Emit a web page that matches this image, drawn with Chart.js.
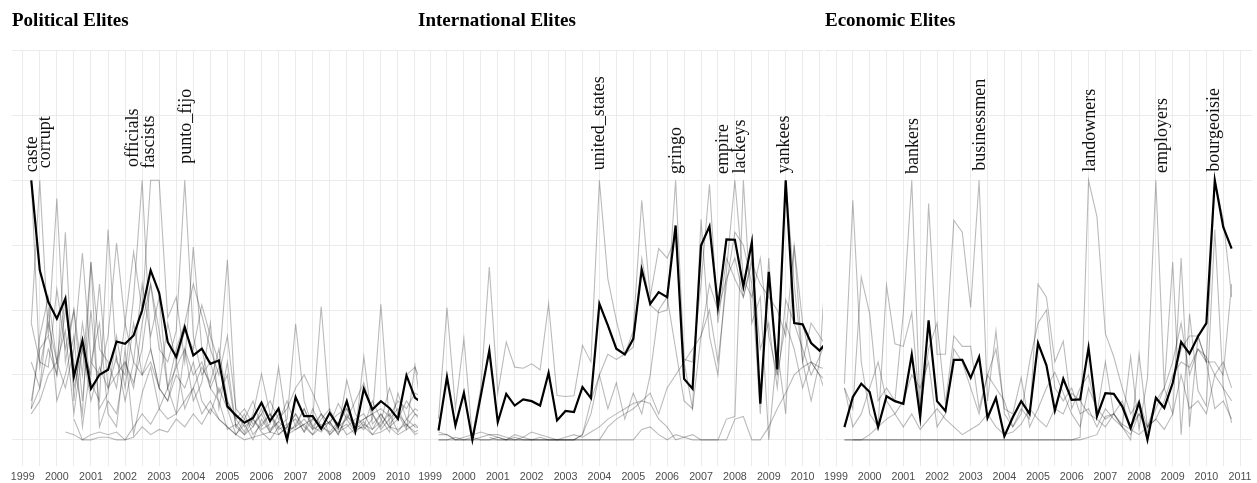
<!DOCTYPE html>
<html><head><meta charset="utf-8">
<script src="https://cdn.jsdelivr.net/npm/chart.js@4.4.0/dist/chart.umd.min.js"></script>
<style>
html,body{margin:0;padding:0;background:#fff;}
#wrap{position:relative;width:1257px;height:483px;overflow:hidden;background:#fff;}
.panel{position:absolute;top:0;height:488px;}
canvas{display:block;}
</style></head><body>
<div id="wrap">
  <div class="panel" style="left:0px;width:421px"><canvas id="c1" width="421" height="488"></canvas></div>
  <div class="panel" style="left:406px;width:421px"><canvas id="c2" width="421" height="488"></canvas></div>
  <div class="panel" style="left:813px;width:444px"><canvas id="c3" width="444" height="488"></canvas></div>
</div>
<script>
// ---------- categories (quarters) ----------
const quarters = [
  "1999 Q2","1999 Q3","1999 Q4",
  "2000 Q1","2000 Q2","2000 Q3","2000 Q4",
  "2001 Q1","2001 Q2","2001 Q3","2001 Q4",
  "2002 Q1","2002 Q2","2002 Q3","2002 Q4",
  "2003 Q1","2003 Q2","2003 Q3","2003 Q4",
  "2004 Q1","2004 Q2","2004 Q3","2004 Q4",
  "2005 Q1","2005 Q2","2005 Q3","2005 Q4",
  "2006 Q1","2006 Q2","2006 Q3","2006 Q4",
  "2007 Q1","2007 Q2","2007 Q3","2007 Q4",
  "2008 Q1","2008 Q2","2008 Q3","2008 Q4",
  "2009 Q1","2009 Q2","2009 Q3","2009 Q4",
  "2010 Q1","2010 Q2","2010 Q3","2010 Q4"
];
// ---------- tick labels / grid ----------
const yearTicks = [1999,2000,2001,2002,2003,2004,2005,2006,2007,2008,2009,2010,2011];
const halfYearTicks = [1999.5,2000.5,2001.5,2002.5,2003.5,2004.5,2005.5,2006.5,2007.5,2008.5,2009.5,2010.5];
const yGrid = [0,0.25,0.5,0.75,1,1.25,1.5];

// ---------- Political elites ----------
const polMain = [1.0,0.653,0.531, 0.467,0.544,0.244,0.383, 0.197,0.251,0.270,0.379, 0.370,0.402,0.499,0.653, 0.566,0.377,0.319,0.434, 0.325,0.351,0.293,0.306, 0.129,0.094,0.066,0.084, 0.143,0.072,0.120,0.0, 0.165,0.091,0.091,0.042, 0.104,0.053,0.149,0.033, 0.197,0.117,0.149,0.123, 0.081,0.248,0.162,0.14];
const polCaste = [1.00,0.28,0.45, 0.30,0.55,0.20,0.35, 0.15,0.28,0.20,0.25, 0.30,0.22,0.35,0.60, 0.42,0.20,0.28,0.35, 0.25,0.30,0.20,0.15, 0.04,0.06,0.02,0.05, 0.10,0.03,0.07,0.04, 0.05,0.12,0.04,0.06, 0.02,0.05,0.08,0.03, 0.06,0.04,0.10,0.05, 0.08,0.15,0.10,0.06];
const polCorrupt = [0.45,1.00,0.40, 0.93,0.30,0.50,0.25, 0.685,0.35,0.30,0.20, 0.45,0.30,0.25,0.35, 0.20,0.15,0.30,0.12, 0.20,0.10,0.15,0.08, 0.05,0.02,0.06,0.00, 0.08,0.03,0.10,0.02, 0.06,0.12,0.05,0.03, 0.07,0.02,0.10,0.04, 0.07,0.02,0.06,0.10, 0.03,0.08,0.05,0.04];
const polOfficials = [0.12,0.20,0.35, 0.25,0.80,0.15,0.45, 0.22,0.15,0.81,0.30, 0.25,0.55,1.00,0.35, 0.20,0.45,0.30,0.42, 0.35,0.52,0.40,0.30, 0.15,0.08,0.03,0.10, 0.254,0.10,0.05,0.08, 0.447,0.15,0.05,0.10, 0.02,0.06,0.12,0.05, 0.08,0.10,0.04,0.08, 0.12,0.05,0.10,0.08];
const polFascists = [0.10,0.15,0.25, 0.30,0.20,0.35,0.72, 0.30,0.25,0.40,0.758, 0.45,0.724,0.50,1.00, 1.00,0.47,0.55,0.30, 0.743,0.35,0.20,0.28, 0.694,0.10,0.05,0.08, 0.04,0.06,0.28,0.05, 0.10,0.03,0.08,0.514, 0.10,0.04,0.06,0.02, 0.32,0.06,0.10,0.05, 0.04,0.06,0.03,0.05];
const polPuntoFijo = [0.15,0.35,0.40, 0.25,0.50,0.30,0.10, 0.685,0.05,0.15,0.10, 0.30,0.20,0.45,0.60, 0.35,0.30,0.42,1.00, 0.40,0.25,0.30,0.18, 0.25,0.05,0.02,0.08, 0.03,0.00,0.05,0.02, 0.04,0.06,0.02,0.05, 0.03,0.07,0.02,0.04, 0.05,0.02,0.03,0.05, 0.02,0.04,0.06,0.03];
const polOther1 = [null,null,null, null,0.03,0.02,0.00, 0.00,0.01,0.01,0.00, 0.00,0.05,0.10,0.06, 0.12,0.08,0.10,0.15, 0.20,0.28,0.22,0.35, 0.15,0.08,0.12,0.06, 0.10,0.15,0.08,0.12, 0.20,0.25,0.18,0.10, 0.06,0.14,0.08,0.15, 0.22,0.10,0.05,0.12, 0.08,0.25,0.28,0.20];
const polOther2 = [0.12,0.40,0.55, 0.30,0.42,0.10,0.35, 0.25,0.60,0.20,0.32, 0.15,0.30,0.60,0.40, 0.55,0.20,0.35,0.45, 0.60,0.48,0.35,0.25, 0.40,0.12,0.08,0.15, 0.05,0.10,0.04,0.06, 0.08,0.03,0.12,0.05, 0.07,0.02,0.09,0.06, 0.04,0.08,0.522,0.06, 0.10,0.04,0.287,0.05];
const polOther3 = [0.45,0.30,0.28, 0.58,0.35,0.50,0.15, 0.50,0.12,0.18,0.40, 0.20,0.45,0.25,0.30, 0.20,0.15,0.25,0.20, 0.30,0.15,0.10,0.20, 0.12,0.02,0.08,0.05, 0.12,0.04,0.07,0.15, 0.05,0.08,0.04,0.10, 0.06,0.03,0.05,0.08, 0.10,0.04,0.07,0.20, 0.10,0.06,0.02,0.04];
const polOther4 = [0.30,0.20,0.50, 0.15,0.25,0.40,0.05, 0.30,0.45,0.10,0.05, 0.35,0.02,0.18,0.28, 0.12,0.20,0.10,0.35, 0.15,0.22,0.45,0.12, 0.30,0.05,0.10,0.02, 0.06,0.10,0.02,0.05, 0.10,0.05,0.02,0.08, 0.12,0.04,0.23,0.10, 0.05,0.15,0.08,0.03, 0.18,0.08,0.12,0.10];
const polOther5 = [null,null,null, null,null,0.08,0.00, 0.02,0.03,0.02,0.03, 0.00,0.01,0.05,0.02, 0.04,0.03,0.08,0.05, 0.10,0.06,0.12,0.08, 0.05,0.02,0.00,0.01, 0.02,0.03,0.02,0.05, 0.04,0.06,0.08,0.05, 0.07,0.10,0.12,0.06, 0.08,0.10,0.12,0.09, 0.15,0.12,0.18,0.16];
const polLabelWords = ["caste","corrupt","officials","fascists","punto_fijo"];
const polLabelX = [1999.27,1999.66,2002.23,2002.72,2003.78];
const polLabelY = [1.031,1.046,1.051,1.045,1.064];

// ---------- International elites ----------
const intMain = [0.036,0.242,0.055, 0.181,0.0,0.171,0.344, 0.068,0.177,0.132,0.156, 0.149,0.132,0.258,0.075, 0.111,0.107,0.203,0.161, 0.524,0.441,0.351,0.329, 0.389,0.656,0.524,0.569, 0.550,0.826,0.235,0.197, 0.749,0.823,0.512,0.772, 0.771,0.591,0.762,0.139, 0.647,0.271,1.0,0.450, 0.445,0.373,0.344,0.383];
const intUnitedStates = [0.08,0.51,0.12, 0.39,0.01,0.20,0.666, 0.18,0.377,0.28,0.276, 0.293,0.27,0.524,0.171, 0.167,0.17,0.364,0.30, 1.00,0.62,0.46,0.33, 0.42,0.923,0.55,0.737, 0.70,0.78,0.30,0.12, 0.40,0.60,0.50,0.62, 0.70,0.55,0.68,0.60, 0.55,0.50,0.40,0.749, 0.45,0.30,0.25,0.22];
const intGringo = [0,0,0, 0,0,0,0, 0,0,0,0, 0,0,0,0, 0,0,0.02,0.10, 0.25,0.33,0.31,0.33, 0.357,0.70,0.52,0.49, 0.50,1.00,0.31,0.30, 0.60,0.985,0.45,0.70, 0.62,0.55,0.70,0.35, 0.45,0.20,0.54,0.45, 0.35,0.25,0.32,0.40];
const intEmpire = [0.02,0.02,0.0, 0.01,0.02,0.03,0.02, 0.01,0.0,0.02,0.01, 0.03,0.02,0.01,0.0, 0.0,0.0,0.02,0.15, 0.25,0.12,0.22,0.08, 0.18,0.10,0.25,0.50, 0.55,0.35,0.15,0.12, 0.85,0.40,0.25,0.65, 1.00,0.62,0.55,0.70, 0.40,0.25,0.45,0.35, 0.20,0.30,0.25,0.15];
const intLackeys = [null,null,null, null,null,null,0.01, 0.0,0.0,0.01,0.0, 0.0,0.01,0.0,0.0, 0.0,0.0,0.0,0.0, 0.0,0.0,0.0,0.0, 0.0,0.04,0.05,0.02, 0.0,0.02,0.01,0.0, 0.0,0.0,0.0,0.08, 0.09,1.00,0.45,0.55, 0.0,0.35,0.10,0.75, 0.30,0.15,0.30,0.80];
const intYankees = [0.03,0.02,0.0, 0.0,0.01,0.0,0.0, 0.01,0.0,0.0,0.0, 0.0,0.0,0.0,0.0, 0.0,0.0,0.0,0.0, 0.0,0.05,0.08,0.10, 0.12,0.15,0.18,0.10, 0.20,0.25,0.30,0.35, 0.40,0.50,0.30,0.60, 0.80,0.75,0.60,0.10, 0.70,0.25,1.00,0.60, 0.30,0.45,0.40,0.35];
const intOther1 = [0.0,0.0,0.01, 0.0,0.0,0.01,0.02, 0.02,0.01,0.0,0.01, 0.0,0.0,0.0,0.0, 0.01,0.02,0.01,0.03, 0.05,0.08,0.10,0.12, 0.14,0.15,0.14,0.08, 0.05,0.0,0.01,0.02, 0.0,0.0,0.0,0.0, 0.08,0.09,0.0,0.0, 0.05,0.12,0.18,0.25, 0.28,0.30,0.28,0.27];
const intLabelWords = ["united_states","gringo","empire","lackeys","yankees"];
const intLabelX = [2004.0,2006.28,2007.67,2008.17,2009.46];
const intLabelY = [1.039,1.024,1.024,1.026,1.026];

// ---------- Economic elites ----------
const ecoMain = [0.049,0.165,0.216, 0.184,0.049,0.168,0.149, 0.139,0.329,0.087,0.460, 0.149,0.111,0.308,0.308, 0.239,0.319,0.085,0.162, 0.014,0.087,0.149,0.100, 0.373,0.287,0.113,0.235, 0.154,0.156,0.355,0.091, 0.180,0.177,0.129,0.046, 0.143,0.0,0.162,0.123, 0.219,0.377,0.332,0.398, 0.450,1.0,0.820,0.737];
const ecoBankers = [0.20,0.12,0.627, 0.486,0.15,0.20,0.15, 0.49,1.00,0.10,0.35, 0.45,0.14,0.40,0.36, 0.36,0.12,0.25,0.35, 0.12,0.10,0.24,0.05, 0.12,0.20,0.26,0.18, 0.10,0.05,0.20,0.12, 0.08,0.10,0.15,0.05, 0.10,0.03,0.16,0.12, 0.22,0.35,0.40,0.40, 0.30,0.12,0.15,0.08];
const ecoBusinessmen = [0.216,0.923,0.30, 0.10,0.05,0.595,0.37, 0.36,0.49,0.10,0.91, 0.33,0.33,0.846,0.80, 0.51,1.00,0.15,0.42, 0.10,0.05,0.12,0.08, 0.60,0.55,0.30,0.38, 0.12,0.20,0.25,0.10, 0.30,0.10,0.05,0.00, 0.33,0.05,0.15,0.20, 0.10,0.70,0.05,0.40, 0.30,0.30,0.25,0.60];
const ecoLandowners = [0.0,0.0,0.0, 0.0,0.0,0.0,0.0, 0.0,0.0,0.0,0.0, 0.0,0.0,0.0,0.0, 0.0,0.0,0.0,0.0, 0.0,0.0,0.0,0.0, 0.0,0.0,0.0,0.0, 0.0,0.01,1.00,0.86, 0.41,0.32,0.20,0.10, 0.15,0.05,0.08,0.04, 0.10,0.25,0.12,0.15, 0.10,0.25,0.30,0.20];
const ecoEmployers = [null,0.0,0.0, 0.0,0.0,0.0,0.0, 0.0,0.0,0.0,0.0, 0.0,0.0,0.0,0.0, 0.0,0.0,0.0,0.0, 0.0,0.0,0.0,0.0, 0.0,0.0,0.0,0.0, 0.0,0.0,0.01,0.02, 0.09,0.10,0.05,0.32, 0.04,0.237,1.00,0.20, 0.685,0.02,0.486,0.19, 0.13,0.81,0.20,0.065];
const ecoBourgeoisie = [0.20,0.05,0.10, 0.20,0.30,0.15,0.10, 0.15,0.25,0.20,0.30, 0.05,0.10,0.35,0.30, 0.20,0.10,0.25,0.20, 0.15,0.05,0.10,0.30, 0.45,0.50,0.20,0.15, 0.20,0.10,0.12,0.05, 0.12,0.08,0.05,0.02, 0.10,0.05,0.12,0.20, 0.30,0.45,0.25,0.35, 0.30,1.00,0.85,0.55];
const ecoOther1 = [0.0,0.0,0.0, 0.02,0.05,0.08,0.10, 0.05,0.10,0.04,0.08, 0.12,0.08,0.05,0.02, 0.04,0.06,0.10,0.05, 0.02,0.03,0.06,0.12, 0.08,0.05,0.12,0.10, 0.18,0.15,0.10,0.08, 0.05,0.10,0.06,0.04, 0.02,0.05,0.08,0.15, 0.25,0.30,0.28,0.35, 0.32,0.25,0.20,0.15];
const ecoLabelWords = ["bankers","businessmen","landowners","employers","bourgeoisie"];
const ecoLabelX = [2001.3,2003.28,2006.56,2008.69,2010.23];
const ecoLabelY = [1.024,1.037,1.033,1.028,1.033];

// ---------- helpers ----------
const xs = quarters.map(q => { const [y, n] = q.split(' Q'); return Number(y) + (Number(n) - 1) / 4; });
const GRAY = 'rgba(0,0,0,0.27)';
function mkSet(vals, color, width){
  return { data: vals.map((v,i) => ({x: xs[i], y: v})), borderColor: color, borderWidth: width,
           pointRadius: 0, fill: false, tension: 0, spanGaps: false };
}
const gridYears = yearTicks.concat(halfYearTicks).sort((a,b)=>a-b);

const peakLabelPlugin = {
  id: 'peakLabels',
  afterDatasetsDraw(chart, args, opts){
    const {ctx, scales:{x, y}} = chart;
    ctx.save();
    ctx.font = '18px "Liberation Serif", "Times New Roman", serif';
    ctx.fillStyle = '#111';
    ctx.textAlign = 'left';
    ctx.textBaseline = 'middle';
    opts.words.forEach((w, i) => {
      const px = x.getPixelForValue(opts.xs[i]);
      const py = y.getPixelForValue(opts.ys[i]);
      ctx.save();
      ctx.translate(px, py);
      ctx.rotate(-Math.PI/2);
      ctx.fillText(w, 0, 0);
      ctx.restore();
    });
    ctx.restore();
  }
};

const panels = [
  {canvas:'c1', title:'Political Elites', padL:12, padR:3, xMin:1998.685, xMax:2010.588,
   labelsShown:[1999,2000,2001,2002,2003,2004,2005,2006,2007,2008,2009,2010],
   main:polMain, grays:[polCaste,polCorrupt,polOfficials,polFascists,polPuntoFijo,polOther1,polOther2,polOther3,polOther4,polOther5],
   words:polLabelWords, lx:polLabelX, ly:polLabelY},
  {canvas:'c2', title:'International Elites', padL:12, padR:4, xMin:1998.645, xMax:2010.601,
   labelsShown:[1999,2000,2001,2002,2003,2004,2005,2006,2007,2008,2009,2010],
   main:intMain, grays:[intUnitedStates,intGringo,intEmpire,intLackeys,intYankees,intOther1],
   words:intLabelWords, lx:intLabelX, ly:intLabelY},
  {canvas:'c3', title:'Economic Elites', padL:12, padR:5, xMin:1998.673, xMax:2011.355,
   labelsShown:[1999,2000,2001,2002,2003,2004,2005,2006,2007,2008,2009,2010,2011],
   main:ecoMain, grays:[ecoBankers,ecoBusinessmen,ecoLandowners,ecoEmployers,ecoBourgeoisie,ecoOther1],
   words:ecoLabelWords, lx:ecoLabelX, ly:ecoLabelY}
];

panels.forEach(p => {
  const datasets = [mkSet(p.main, '#000', 2.2)].concat(p.grays.map(g => mkSet(g, GRAY, 1.1)));
  new Chart(document.getElementById(p.canvas), {
    type: 'line',
    data: { datasets },
    options: {
      responsive: false, animation: false, events: [],
      layout: { padding: { left: p.padL, right: p.padR, top: 0, bottom: 0 } },
      plugins: {
        legend: { display: false }, tooltip: { enabled: false },
        title: { display: true, text: p.title, align: 'start', color: '#000',
                 font: { family: '"Liberation Serif", "Times New Roman", serif', size: 19, weight: 'bold' },
                 padding: { top: 9.5, bottom: 18.2 } },
        peakLabels: { words: p.words, xs: p.lx, ys: p.ly }
      },
      scales: {
        x: { type: 'linear', min: p.xMin, max: p.xMax,
             afterBuildTicks: s => { s.ticks = gridYears.filter(v => v >= p.xMin && v <= p.xMax).map(v => ({value: v})); },
             ticks: { autoSkip: false, maxRotation: 0, minRotation: 0, padding: 4.68, color: '#4d4d4d',
                      font: { family: '"Liberation Sans", Arial, sans-serif', size: 10.7 },
                      callback: v => p.labelsShown.includes(v) ? String(v) : '' },
             grid: { color: '#ebebeb', lineWidth: 1, drawTicks: false },
             border: { display: false } },
        y: { min: -0.1, max: 1.5,
             afterBuildTicks: s => { s.ticks = yGrid.map(v => ({value: v})); },
             ticks: { display: false },
             grid: { color: '#ebebeb', lineWidth: 1, drawTicks: false },
             border: { display: false } }
      }
    },
    plugins: [peakLabelPlugin]
  });
});
</script>
</body></html>
